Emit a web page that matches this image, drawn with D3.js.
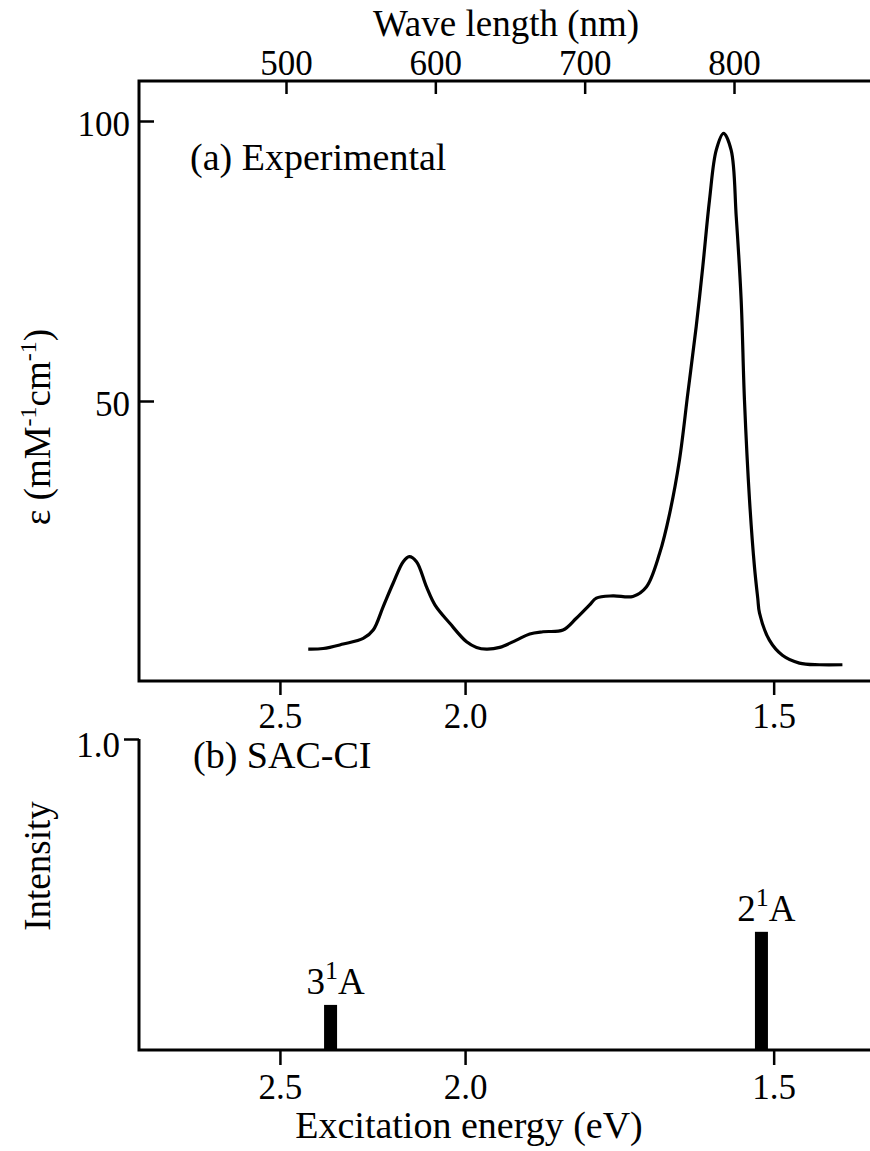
<!DOCTYPE html>
<html>
<head>
<meta charset="utf-8">
<script src="https://cdn.jsdelivr.net/npm/d3@7"></script>
<style>
body { margin: 0; background: #fff; }
text { font-family: "Liberation Serif", "Times New Roman", serif; fill: #000; }
.axis text { font-size: 35px; }
.axis line { stroke: #000; stroke-width: 2.5; }
</style>
</head>
<body>
<script>
// (a) experimental spectrum (nm, mM-1 cm-1)
const wavelength = [514.9, 524.9, 538.3, 551.7, 558.4, 565.1, 571.8, 578.5, 582.5, 587.4,
    594.1, 599.7, 609.7, 620.9, 627.6, 634.2, 643.1, 654.3, 663.2, 672.1,
    685.5, 694.4, 703.3, 707.8, 718.9, 732.3, 741.3, 750.2, 756.9, 763.5,
    769.1, 774.7, 779.1, 783.6, 788.1, 793.0, 798.1, 801.5, 804.8, 807.0,
    810.4, 813.7, 815.9, 817.1, 823.7, 832.4, 843.8, 857.2, 872.6];
const epsilon = [5.7, 5.8, 6.6, 7.6, 9.1, 13.3, 17.5, 21.3, 22.2, 21.3,
    16.8, 13.6, 10.3, 7.0, 6.0, 5.7, 6.0, 7.3, 8.4, 8.8,
    9.1, 11.2, 13.6, 14.8, 15.2, 15.1, 16.8, 22.8, 29.9, 39.5,
    51.4, 63.3, 74.0, 85.9, 94.8, 97.8, 94.8, 82.9, 68.0, 50.2,
    32.3, 20.4, 14.8, 12.1, 7.3, 4.6, 3.2, 2.9, 2.9];

// (b) SAC-CI states
const stateNumber = ["3", "2"];
const stateEnergy = [2.34, 1.515];
const stateIntensity = [0.145, 0.38];

// tick labels
const nmTicks = [500, 600, 700, 800];
const eVTicks = [2.5, 2.0, 1.5];
const epsTicks = [50, 100];
const intTicks = [1.0];

const width = 870;
const height = 1151;
const left = 139;

const svg = d3.select("body").append("svg")
    .attr("width", width)
    .attr("height", height);

// both panels are linear in wave length
const x = d3.scaleLinear().domain([500, 800]).range([286, 734]);
const toNm = e => 1239.84 / e;
const yA = d3.scaleLinear().domain([0, 100]).range([681, 121]);
const yB = d3.scaleLinear().domain([0, 1]).range([1050, 739]);

// d3 puts sans-serif on the axis group, drop it so the css font wins
function plain(g) {
    g.attr("font-family", null).attr("font-size", null);
    g.select(".domain").remove();
}

// ---- panel (a) ----
svg.append("g")
    .attr("class", "axis")
    .attr("transform", "translate(0,81)")
    .call(d3.axisTop(x).tickValues(nmTicks).tickSize(-13).tickPadding(6).tickFormat(d3.format("d")))
    .call(plain);

svg.append("g")
    .attr("class", "axis")
    .attr("transform", "translate(0,681)")
    .call(d3.axisBottom(x).tickValues(eVTicks.map(toNm)).tickSize(14).tickPadding(8)
        .tickFormat((d, i) => eVTicks[i].toFixed(1)))
    .call(plain);

svg.append("g")
    .attr("class", "axis")
    .attr("transform", "translate(" + left + ",0)")
    .call(d3.axisLeft(yA).tickValues(epsTicks).tickSize(-15).tickPadding(9))
    .call(plain)
    .call(g => g.selectAll("text").attr("dy", "0.42em"));

svg.append("path")
    .attr("d", "M" + width + ",81H" + left + "V681H" + width)
    .attr("fill", "none")
    .attr("stroke", "#000")
    .attr("stroke-width", 3);

const line = d3.line()
    .x(d => x(d[0]))
    .y(d => yA(d[1]))
    .curve(d3.curveCatmullRom.alpha(0.5));

svg.append("path")
    .datum(d3.zip(wavelength, epsilon))
    .attr("d", line)
    .attr("fill", "none")
    .attr("stroke", "#000")
    .attr("stroke-width", 3.2)
    .attr("stroke-linejoin", "round");

svg.append("text")
    .attr("x", 506).attr("y", 36)
    .attr("text-anchor", "middle")
    .style("font-size", "37px")
    .text("Wave length (nm)");

svg.append("text")
    .attr("x", 190).attr("y", 170)
    .style("font-size", "38px")
    .text("(a) Experimental");

const epsLabel = svg.append("text")
    .attr("transform", "translate(50,427) rotate(-90)")
    .attr("text-anchor", "middle")
    .style("font-size", "37px");
epsLabel.append("tspan").text("\u03b5 (mM");
epsLabel.append("tspan").attr("dy", -14).style("font-size", "24px").text("-1");
epsLabel.append("tspan").attr("dy", 14).text("cm");
epsLabel.append("tspan").attr("dy", -14).style("font-size", "24px").text("-1");
epsLabel.append("tspan").attr("dy", 14).text(")");

// ---- panel (b) ----
svg.append("g")
    .attr("class", "axis")
    .attr("transform", "translate(0,1050)")
    .call(d3.axisBottom(x).tickValues(eVTicks.map(toNm)).tickSize(15).tickPadding(9)
        .tickFormat((d, i) => eVTicks[i].toFixed(1)))
    .call(plain);

svg.append("g")
    .attr("class", "axis")
    .attr("transform", "translate(" + left + ",0)")
    .call(d3.axisLeft(yB).tickValues(intTicks).tickSize(15).tickPadding(4).tickFormat(d3.format(".1f")))
    .call(plain)
    .call(g => g.selectAll("text").attr("dy", "0.5em"));

svg.append("path")
    .attr("d", "M" + left + "," + yB(1) + "V" + yB(0) + "H" + width)
    .attr("fill", "none")
    .attr("stroke", "#000")
    .attr("stroke-width", 3);

const states = d3.range(stateEnergy.length).map(i => ({
    n: stateNumber[i], e: stateEnergy[i], v: stateIntensity[i]
}));

svg.selectAll("rect.bar")
    .data(states)
    .enter()
    .append("rect")
    .attr("class", "bar")
    .attr("x", d => x(toNm(d.e)) - 6.5)
    .attr("y", d => yB(d.v))
    .attr("width", 13)
    .attr("height", d => yB(0) - yB(d.v))
    .attr("fill", "#000");

const lab = svg.selectAll("text.state")
    .data(states)
    .enter()
    .append("text")
    .attr("class", "state")
    .attr("x", d => x(toNm(d.e)) + 5)
    .attr("y", d => yB(d.v) - 11)
    .attr("text-anchor", "middle")
    .style("font-size", "37px");
lab.append("tspan").text(d => d.n);
lab.append("tspan").attr("dy", -15).style("font-size", "26px").text("1");
lab.append("tspan").attr("dy", 15).text("A");

svg.append("text")
    .attr("x", 193).attr("y", 768)
    .style("font-size", "38px")
    .text("(b) SAC-CI");

svg.append("text")
    .attr("x", 469).attr("y", 1138)
    .attr("text-anchor", "middle")
    .style("font-size", "38px")
    .text("Excitation energy (eV)");

svg.append("text")
    .attr("transform", "translate(50,866) rotate(-90)")
    .attr("text-anchor", "middle")
    .style("font-size", "37px")
    .text("Intensity");
</script>
</body>
</html>
